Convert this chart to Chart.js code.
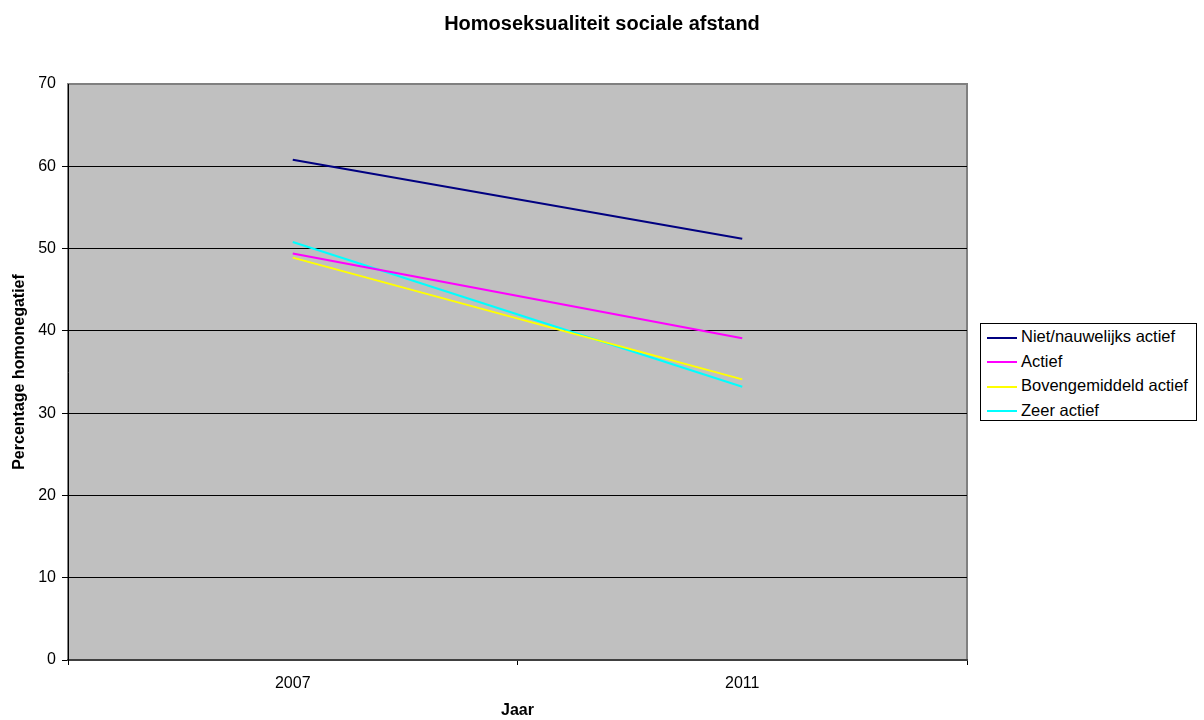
<!DOCTYPE html>
<html>
<head>
<meta charset="utf-8">
<script src="https://cdn.jsdelivr.net/npm/chart.js@4"></script>
<style>
  html, body { margin: 0; padding: 0; background: #fff; }
  #wrap { position: relative; width: 1204px; height: 720px; }
  #legend {
    position: absolute; left: 980px; top: 323px; width: 217px; height: 98px;
    border: 1px solid #000; box-sizing: border-box; background: #fff;
    font-family: "Liberation Sans", Arial, sans-serif; font-size: 16.5px; color: #000;
    padding-top: 0px;
  }
  #legend .row { height: 24.5px; line-height: 24.5px; white-space: nowrap; }
  #legend .swatch { display: inline-block; width: 30px; height: 2px; margin: 0 4px 0 6px; vertical-align: middle; }
</style>
</head>
<body>
<div id="wrap">
  <canvas id="chart" width="1204" height="720"></canvas>
  <div id="legend"></div>
</div>
<script>
// Data
const years = ['2007', '2011'];
const seriesNames = ['Niet/nauwelijks actief', 'Actief', 'Bovengemiddeld actief', 'Zeer actief'];
const nietNauwelijks = [60.8, 51.2];
const actief = [49.4, 39.1];
const bovengemiddeld = [48.9, 34.1];
const zeerActief = [50.8, 33.2];
const seriesColors = ['#000080', '#FF00FF', '#FFFF00', '#00FFFF'];

const FONT = '"Liberation Sans", Arial, sans-serif';

// Gray plot background + border
const plotBackground = {
    id: 'plotBackground',
    beforeDraw(chart) {
        const {ctx, chartArea: a} = chart;
        ctx.save();
        ctx.fillStyle = '#C0C0C0';
        ctx.fillRect(a.left, a.top, a.right - a.left, a.bottom - a.top);
        ctx.strokeStyle = '#808080';
        ctx.lineWidth = 2;
        ctx.strokeRect(a.left, a.top, a.right - a.left, a.bottom - a.top);
        ctx.restore();
    }
};

const allData = [nietNauwelijks, actief, bovengemiddeld, zeerActief];

const ctx = document.getElementById('chart').getContext('2d');
const chart = new Chart(ctx, {
    type: 'line',
    data: {
        labels: years,
        datasets: allData.map((d, i) => ({
            label: seriesNames[i],
            data: d,
            borderColor: seriesColors[i],
            backgroundColor: seriesColors[i],
            borderWidth: 2,
            pointRadius: 0,
            tension: 0,
            fill: false
        }))
    },
    options: {
        responsive: false,
        animation: false,
        layout: { padding: 0 },
        plugins: {
            legend: { display: false },
            tooltip: { enabled: false },
            title: {
                display: true,
                text: 'Homoseksualiteit sociale afstand',
                color: '#000',
                font: { family: FONT, size: 20, weight: 'bold' },
                padding: { top: 12, bottom: 48 }
            }
        },
        scales: {
            x: {
                offset: true,
                afterFit(scale) { scale.height = 60; },
                grid: {
                    offset: true,
                    drawOnChartArea: false,
                    drawTicks: true,
                    tickLength: 5,
                    color: '#000'
                },
                border: { color: '#404040', width: 2 },
                ticks: {
                    color: '#000',
                    padding: 9,
                    font: { family: FONT, size: 16 }
                },
                title: {
                    display: true,
                    text: 'Jaar',
                    color: '#000',
                    font: { family: FONT, size: 16, weight: 'bold' },
                    padding: { top: 0, bottom: 0 }
                }
            },
            y: {
                min: 0,
                max: 70,
                afterFit(scale) { scale.width = 68; },
                ticks: {
                    stepSize: 10,
                    color: '#000',
                    padding: 6,
                    font: { family: FONT, size: 16 }
                },
                grid: {
                    tickLength: 6,
                    color: (c) => (c.tick && c.tick.value === 70) ? 'rgba(0,0,0,0)' : '#000'
                },
                border: { color: '#000', width: 1 },
                title: {
                    display: true,
                    text: 'Percentage homonegatief',
                    color: '#000',
                    font: { family: FONT, size: 16, weight: 'bold' },
                    padding: { top: 10, bottom: 0 }
                }
            },
            // empty space on the right for the legend
            spacer: {
                type: 'linear',
                position: 'right',
                afterFit(scale) { scale.width = 237; },
                grid: { display: false },
                border: { display: false },
                ticks: { display: false }
            }
        }
    },
    plugins: [plotBackground]
});

// HTML legend
const legendEl = document.getElementById('legend');
seriesNames.forEach((name, i) => {
    const row = document.createElement('div');
    row.className = 'row';
    const sw = document.createElement('span');
    sw.className = 'swatch';
    sw.style.background = seriesColors[i];
    row.appendChild(sw);
    row.appendChild(document.createTextNode(name));
    legendEl.appendChild(row);
});
</script>
</body>
</html>
